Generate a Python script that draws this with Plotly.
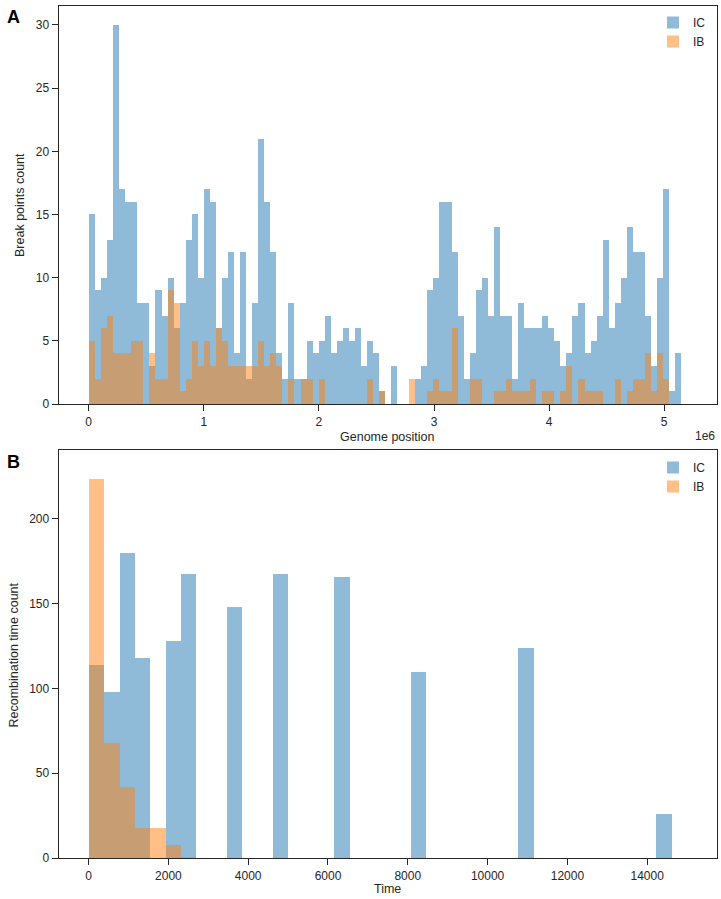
import numpy as np
import plotly.graph_objects as go

# ---------------- data ----------------
# Panel A: break point counts per genome-position bin
pos_bin_start = 0
pos_bin_width = 52500
ic_pos_counts = [15, 9, 10, 13, 30, 17, 16, 16, 8, 8,
                 3, 9, 7, 10, 6, 8, 13, 15, 10, 17,
                 16, 6, 10, 12, 4, 12, 2, 8, 21, 16,
                 12, 4, 2, 8, 2, 2, 5, 4, 5, 7,
                 4, 5, 6, 5, 6, 3, 5, 4, 1, 0,
                 3, 0, 0, 0, 2, 3, 9, 10, 16, 16,
                 12, 7, 2, 4, 9, 10, 7, 14, 7, 7,
                 2, 8, 6, 6, 6, 7, 6, 5, 3, 4,
                 7, 8, 4, 5, 7, 13, 6, 8, 10, 14,
                 12, 12, 7, 3, 10, 17, 1, 4]
ib_pos_counts = [5, 2, 6, 7, 4, 4, 4, 5, 5, 0,
                 4, 2, 2, 9, 8, 1, 2, 5, 3, 5,
                 3, 6, 5, 3, 3, 3, 3, 3, 5, 3,
                 4, 3, 0, 2, 0, 2, 2, 0, 2, 0,
                 0, 0, 0, 0, 0, 0, 2, 0, 1, 0,
                 0, 0, 0, 2, 0, 0, 1, 2, 1, 1,
                 6, 0, 0, 2, 2, 0, 0, 1, 1, 2,
                 1, 1, 1, 2, 0, 1, 1, 0, 1, 3,
                 0, 2, 1, 1, 1, 0, 0, 2, 0, 1,
                 2, 2, 4, 1, 4, 2, 0, 0]
pos_ticks = [0, 1e6, 2e6, 3e6, 4e6, 5e6]
pos_ticktext = ["0", "1", "2", "3", "4", "5"]
pos_yticks = [0, 5, 10, 15, 20, 25, 30]

# Panel B: recombination time counts per time bin
time_bin_start = 0
time_bin_width = 384.4
ic_time_counts = [114, 98, 180, 118, 0, 128, 168, 0, 0, 148,
                  0, 0, 168, 0, 0, 0, 166, 0, 0, 0,
                  0, 110, 0, 0, 0, 0, 0, 0, 124, 0,
                  0, 0, 0, 0, 0, 0, 0, 26, 0]
ib_time_counts = [224, 68, 42, 18, 18, 8, 1]
time_ticks = [0, 2000, 4000, 6000, 8000, 10000, 12000, 14000]
time_ticktext = ["0", "2000", "4000", "6000", "8000", "10000", "12000", "14000"]
time_yticks = [0, 50, 100, 150, 200]

series_names = ["IC", "IB"]
blue = "rgba(31,119,180,0.5)"
orange = "rgba(255,127,14,0.5)"
ink = "#262626"
FONT = "Liberation Sans, Arial, sans-serif"

W, H = 721, 899


def centers(start, width, counts):
    return start + width * (np.arange(len(counts)) + 0.5)


def px(x):
    return x / W


def py(y):
    return 1 - y / H


fig = go.Figure()

fig.add_trace(go.Bar(x=centers(pos_bin_start, pos_bin_width, ic_pos_counts), y=ic_pos_counts,
                     width=pos_bin_width, name=series_names[0], marker=dict(color=blue, line=dict(width=0)),
                     xaxis="x", yaxis="y", legend="legend"))
fig.add_trace(go.Bar(x=centers(pos_bin_start, pos_bin_width, ib_pos_counts), y=ib_pos_counts,
                     width=pos_bin_width, name=series_names[1], marker=dict(color=orange, line=dict(width=0)),
                     xaxis="x", yaxis="y", legend="legend"))
fig.add_trace(go.Bar(x=centers(time_bin_start, time_bin_width, ic_time_counts), y=ic_time_counts,
                     width=time_bin_width, name=series_names[0], marker=dict(color=blue, line=dict(width=0)),
                     xaxis="x2", yaxis="y2", legend="legend2"))
fig.add_trace(go.Bar(x=centers(time_bin_start, time_bin_width, ib_time_counts), y=ib_time_counts,
                     width=time_bin_width, name=series_names[1], marker=dict(color=orange, line=dict(width=0)),
                     xaxis="x2", yaxis="y2", legend="legend2"))

x_dom = [px(58.7), px(716.7)]
axis_common = dict(showline=True, linecolor=ink, linewidth=1.25, mirror=True, ticks="outside",
                   ticklen=6, tickwidth=1.25, tickcolor=ink, showgrid=False, zeroline=False,
                   tickfont=dict(family=FONT, size=12, color=ink),
                   automargin=False)

fig.update_layout(
    width=W, height=H,
    margin=dict(l=0, r=0, t=0, b=0),
    paper_bgcolor="white", plot_bgcolor="white",
    barmode="overlay", bargap=0,
    font=dict(family=FONT, size=12, color=ink),
    xaxis=dict(domain=x_dom, range=[-0.2606e6, 5.456e6], tickvals=pos_ticks, ticktext=pos_ticktext,
               anchor="y", **axis_common),
    yaxis=dict(domain=[py(404), py(6)], range=[0, 31.5], tickvals=pos_yticks,
               anchor="x", **axis_common),
    xaxis2=dict(domain=x_dom, range=[-749, 15742], tickvals=time_ticks, ticktext=time_ticktext,
                anchor="y2", **axis_common),
    yaxis2=dict(domain=[py(858), py(449.5)], range=[0, 240.8], tickvals=time_yticks,
                anchor="x2", **axis_common),
    legend=dict(x=px(653), y=py(8), xanchor="left", yanchor="top", bgcolor="rgba(0,0,0,0)",
                font=dict(size=12, color=ink), tracegroupgap=0),
    legend2=dict(x=px(653), y=py(453), xanchor="left", yanchor="top", bgcolor="rgba(0,0,0,0)",
                 font=dict(size=12, color=ink), tracegroupgap=0),
    showlegend=True,
)

annos = [
    dict(text="<b>A</b>", x=px(13), y=py(17), font=dict(size=18, color="black")),
    dict(text="<b>B</b>", x=px(13), y=py(462), font=dict(size=18, color="black")),
    dict(text="Break points count", x=px(20), y=py(205), textangle=-90, font=dict(size=12.5, color=ink)),
    dict(text="Recombination time count", x=px(13.5), y=py(655), textangle=-90, font=dict(size=12.5, color=ink)),
    dict(text="Genome position", x=px(387.7), y=py(437), font=dict(size=12.5, color=ink)),
    dict(text="Time", x=px(387.7), y=py(889), font=dict(size=12.5, color=ink)),
]
for a in annos:
    fig.add_annotation(xref="paper", yref="paper", showarrow=False, xanchor="center", yanchor="middle", **a)
fig.add_annotation(text="1e6", xref="paper", yref="paper", x=px(717), y=py(436), xanchor="right",
                   yanchor="middle", showarrow=False, font=dict(size=12, color=ink))

fig.write_html("out.html", config={"displayModeBar": False},
               post_script="document.body.style.margin='0';document.body.style.overflow='hidden';")
